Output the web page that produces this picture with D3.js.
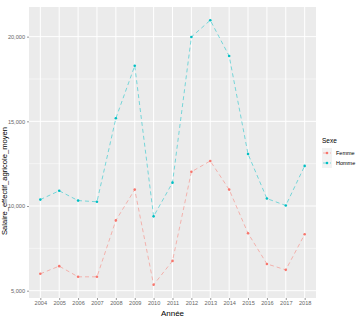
<!DOCTYPE html>
<html>
<head>
<meta charset="utf-8" />
<title>ggplot-like</title>
<style>
* { padding: 0; margin: 0; }
body { background: #fff; }
text { font-family: "Liberation Sans", Arial, sans-serif; }
</style>
</head>
<body>
<div id="chart"></div>
<script src="https://cdn.jsdelivr.net/npm/d3@7"></script>
<script>
var years = [2004, 2005, 2006, 2007, 2008, 2009, 2010, 2011, 2012, 2013, 2014, 2015, 2016, 2017, 2018]
var femme = [6000, 6450, 5820, 5820, 9150, 10970, 5350, 6760, 12020, 12660, 10970, 8390, 6580, 6230, 8330]
var homme = [10380, 10900, 10320, 10250, 15180, 18280, 9390, 11380, 19980, 20970, 18860, 13070, 10440, 10030, 12370]
var yTicks = [5000, 10000, 15000, 20000]
var yMinor = [7500, 12500, 17500]
var sexes = ["Femme", "Homme"]
var colors = ["#F8766D", "#00BFC4"]

var W = 362, H = 317
var panel = {left: 29, right: 316, top: 7, bottom: 298}

var svg = d3.select("#chart").append("svg").attr("width", W).attr("height", H)

var x = d3.scaleLinear().domain([2004 - 0.6, 2018 + 0.6]).range([panel.left, panel.right])
var lo = d3.min(femme), hi = d3.max(homme)
var pad = (hi - lo) * 0.05
var y = d3.scaleLinear().domain([lo - pad, hi + pad]).range([panel.bottom, panel.top])

svg.append("rect")
    .attr("x", panel.left).attr("y", panel.top)
    .attr("width", panel.right - panel.left).attr("height", panel.bottom - panel.top)
    .attr("fill", "#EBEBEB")

// grid
svg.append("g").selectAll("line").data(yMinor).enter().append("line")
    .attr("x1", panel.left).attr("x2", panel.right)
    .attr("y1", d => y(d)).attr("y2", d => y(d))
    .attr("stroke", "#fff").attr("stroke-width", 0.5)
svg.append("g").selectAll("line").data(yTicks).enter().append("line")
    .attr("x1", panel.left).attr("x2", panel.right)
    .attr("y1", d => y(d)).attr("y2", d => y(d))
    .attr("stroke", "#fff").attr("stroke-width", 1)
svg.append("g").selectAll("line").data(years).enter().append("line")
    .attr("x1", d => x(d)).attr("x2", d => x(d))
    .attr("y1", panel.top).attr("y2", panel.bottom)
    .attr("stroke", "#fff").attr("stroke-width", 1)

// axes
var yAxis = svg.append("g").attr("transform", "translate(" + panel.left + ",0)")
    .call(d3.axisLeft(y).tickValues(yTicks).tickSize(2).tickPadding(2).tickFormat(d3.format(",")))
var xAxis = svg.append("g").attr("transform", "translate(0," + panel.bottom + ")")
    .call(d3.axisBottom(x).tickValues(years).tickSize(2).tickPadding(1.5).tickFormat(d3.format("d")))
;[xAxis, yAxis].forEach(function(a) {
    a.select(".domain").remove()
    a.selectAll(".tick line").attr("stroke", "#333").attr("stroke-width", 0.5)
    a.selectAll(".tick text").attr("fill", "#666").attr("font-size", 5.6)
})

// series
var series = [femme, homme]
var line = d3.line().x((d, i) => x(years[i])).y(d => y(d))
series.forEach(function(vals, k) {
    svg.append("path").datum(vals)
        .attr("d", line).attr("fill", "none")
        .attr("stroke", colors[k]).attr("stroke-width", 0.5)
        .attr("stroke-dasharray", "4,3")
    svg.append("g").selectAll("circle").data(vals).enter().append("circle")
        .attr("cx", (d, i) => x(years[i])).attr("cy", d => y(d))
        .attr("r", 1.3).attr("fill", colors[k])
})

// titles
svg.append("text").attr("x", (panel.left + panel.right) / 2).attr("y", 316)
    .attr("text-anchor", "middle").attr("font-size", 8).attr("fill", "#000").text("Année")
svg.append("text").attr("transform", "translate(7,181) rotate(-90)")
    .attr("text-anchor", "middle").attr("font-size", 7.6).attr("fill", "#000").text("Salaire_effectif_agricole_moyen")

// legend
var lg = svg.append("g").attr("transform", "translate(322,0)")
lg.append("text").attr("x", 0).attr("y", 143).attr("font-size", 6.5).attr("fill", "#000").text("Sexe")
sexes.forEach(function(s, k) {
    var cy = 153 + k * 10
    lg.append("rect").attr("x", 0).attr("y", cy - 5).attr("width", 10).attr("height", 10).attr("fill", "#F2F2F2")
    lg.append("line").attr("x1", 1).attr("x2", 9).attr("y1", cy).attr("y2", cy)
        .attr("stroke", colors[k]).attr("stroke-width", 0.5).attr("stroke-dasharray", "4,3")
    lg.append("circle").attr("cx", 5).attr("cy", cy).attr("r", 1.3).attr("fill", colors[k])
    lg.append("text").attr("x", 14).attr("y", cy + 2).attr("font-size", 5.5).attr("fill", "#000").text(s)
})
</script>
</body>
</html>
